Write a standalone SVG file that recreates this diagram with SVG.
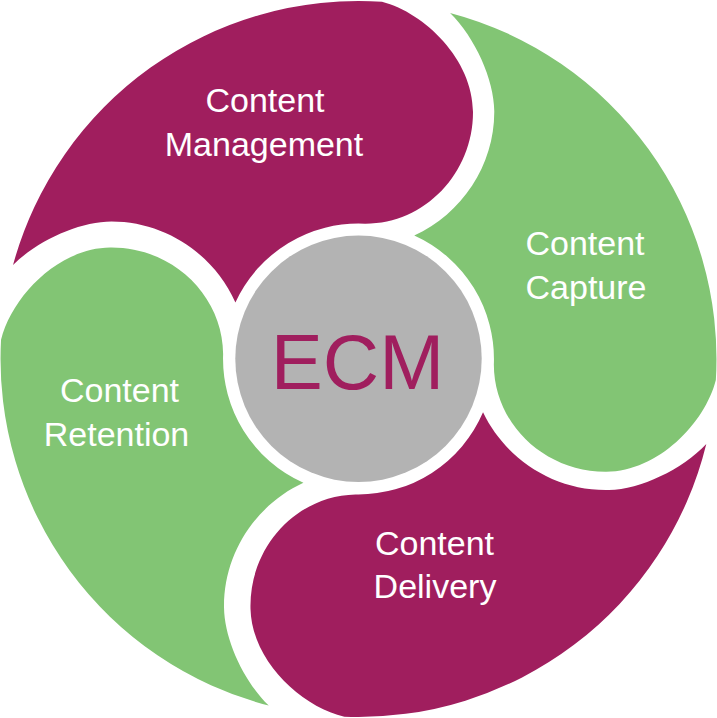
<svg xmlns="http://www.w3.org/2000/svg" xmlns:xlink="http://www.w3.org/1999/xlink" width="717" height="718" viewBox="0 0 717 718">
  <style>
    .purple { fill: #A01E5E; }
    .green { fill: #82C574; }
    .label { font-family: "Liberation Sans", Arial, sans-serif; font-size: 34px; fill: #FFFFFF; text-anchor: middle; }
    .ecm { font-family: "Liberation Sans", Arial, sans-serif; font-size: 78px; fill: #A01E5E; text-anchor: middle; }
  </style>
  <defs>
    <path id="petal" d="M 13.05,265.01 A 358 358 0 0 1 382,1.8 C 425,13 473,60 473,112 C 473,173.6 424.4,224 365,223.7 A 135.5 135.5 0 0 0 235.4,302.4 C 214,254.4 165.4,221.5 111.5,221.5 C 80,221.5 38,240 13.05,265.01 Z"/>
  </defs>
  <rect width="717" height="718" fill="#FFFFFF"/>
  <g id="node-management">
    <use xlink:href="#petal" href="#petal" class="purple"/>
    <text class="label" x="265" y="111.7">Content</text>
    <text class="label" x="264" y="156">Management</text>
  </g>
  <g id="node-capture">
    <use xlink:href="#petal" href="#petal" class="green" transform="rotate(89.6 358.5 359)"/>
    <text class="label" x="585" y="254.7">Content</text>
    <text class="label" x="586" y="298.5">Capture</text>
  </g>
  <g id="node-delivery">
    <use xlink:href="#petal" href="#petal" class="purple" transform="rotate(178.5 358.5 359)"/>
    <text class="label" x="434.5" y="554.6">Content</text>
    <text class="label" x="435" y="598">Delivery</text>
  </g>
  <g id="node-retention">
    <use xlink:href="#petal" href="#petal" class="green" transform="rotate(269.3 358.5 359)"/>
    <text class="label" x="119.5" y="402.4">Content</text>
    <text class="label" x="116.5" y="446">Retention</text>
  </g>
  <g id="node-ecm">
    <circle cx="358.5" cy="358.8" r="123.2" fill="#B3B3B3"/>
    <text class="ecm" x="357.5" y="389.3">ECM</text>
  </g>
</svg>
